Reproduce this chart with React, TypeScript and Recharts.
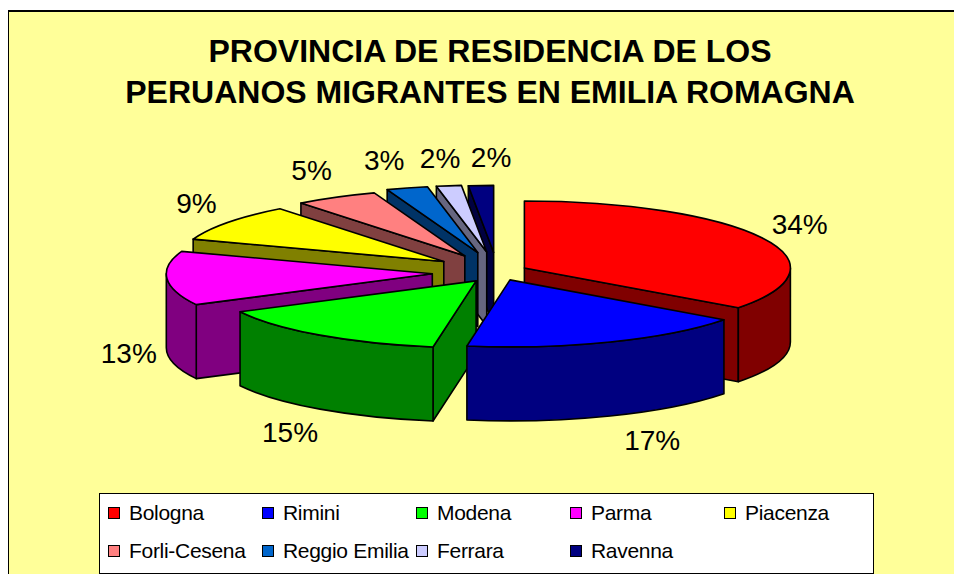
import { PieChart, Pie, Legend } from "recharts";

const TITLE = ["PROVINCIA DE RESIDENCIA DE LOS", "PERUANOS MIGRANTES EN EMILIA ROMAGNA"];
const PROVINCES = ["Bologna", "Rimini", "Modena", "Parma", "Piacenza", "Forli-Cesena", "Reggio Emilia", "Ferrara", "Ravenna"];
const SHARES = [34.49, 17.29, 15.0, 13.4, 9.2, 5.1, 2.52, 1.52, 1.52];
const TOPS = ["#ff0000", "#0000ff", "#00ff00", "#ff00ff", "#ffff00", "#ff8080", "#0066cc", "#ccccff", "#000080"];
const WALLS = ["#800000", "#000080", "#008000", "#800080", "#808000", "#804040", "#003366", "#666680", "#000040"];
// how far each slice is pulled out of the pie
const EXPLODE = [31, 31, 38, 65, 65, 66, 72, 72, 70];
const LABEL_NUDGE_X = [5, 14, -18, 1, 3, -4, -12, -3, 12];
const LABEL_NUDGE_Y = [1, 0, -2, -4, -3, -2, -1, 0, 0];

const CX = 497;
const CY = 272;
const RX = 266;
const RY = 67;
const DEPTH = 74;
const SQUASH = 0.28;
const rad = Math.PI / 180;

// painted back to front: Bologna, then counter-clockwise round to Rimini
const drawOrder = [0, 8, 7, 6, 5, 4, 3, 2, 1];
const table = drawOrder.map((i) => ({ name: PROVINCES[i], value: SHARES[i], idx: i }));
const startAt = 90 - (360 * SHARES[0]) / SHARES.reduce((a, b) => a + b, 0);

const rim = (ax: number, ay: number, t: number) => [ax + RX * Math.sin(t * rad), ay - RY * Math.cos(t * rad)];

// the old 3D view stretches the front a little
const warp = (t: number) => t + 1.5 * (1 - Math.cos(t * rad));

// library angles (90 = top, counter-clockwise) to degrees clockwise from the top
function cwRange(startAngle: number, endAngle: number) {
  let a0 = 90 - Math.max(startAngle, endAngle);
  let a1 = 90 - Math.min(startAngle, endAngle);
  if (a0 < -0.01) { a0 += 360; a1 += 360; }
  return [a0, a1];
}

function apexOf(idx: number, mid: number) {
  const e = EXPLODE[idx];
  return [CX + e * Math.sin(mid * rad), CY - e * SQUASH * Math.cos(mid * rad)];
}

function Slice3D(props: any) {
  const idx = props.idx ?? props.payload?.idx;
  const [c0, c1] = cwRange(props.startAngle, props.endAngle);
  const [ax, ay] = apexOf(idx, (c0 + c1) / 2);
  const a0 = warp(c0);
  const a1 = warp(c1);
  const p0 = rim(ax, ay, a0);
  const p1 = rim(ax, ay, a1);
  const big = a1 - a0 > 180 ? 1 : 0;
  const line = { stroke: "#000", strokeWidth: 1.6, strokeLinejoin: "round" as const };
  const wall = WALLS[idx];

  const radial = (p: number[]) =>
    `M${ax},${ay} L${p[0]},${p[1]} L${p[0]},${p[1] + DEPTH} L${ax},${ay + DEPTH} Z`;

  const from = Math.max(a0, 90);
  const to = Math.min(a1, 270);
  let outer = "";
  if (to > from) {
    const f = rim(ax, ay, from);
    const t = rim(ax, ay, to);
    outer = `M${f[0]},${f[1]} A${RX},${RY} 0 0 1 ${t[0]},${t[1]} L${t[0]},${t[1] + DEPTH} A${RX},${RY} 0 0 0 ${f[0]},${f[1] + DEPTH} Z`;
  }

  return (
    <g>
      {Math.sin(a0 * rad) < -0.001 && <path d={radial(p0)} fill={wall} {...line} />}
      {Math.sin(a1 * rad) > 0.001 && <path d={radial(p1)} fill={wall} {...line} />}
      {outer && <path d={outer} fill={wall} {...line} />}
      <path
        d={`M${ax},${ay} L${p0[0]},${p0[1]} A${RX},${RY} 0 ${big} 1 ${p1[0]},${p1[1]} Z`}
        fill={TOPS[idx]}
        {...line}
      />
    </g>
  );
}

function sliceLabel(props: any) {
  const idx = props.idx ?? props.payload?.idx;
  const mid = 90 - props.midAngle < 0 ? 450 - props.midAngle : 90 - props.midAngle;
  const [ax, ay] = apexOf(idx, mid);
  const [rx, ry] = rim(ax, ay, mid);
  const front = Math.cos(mid * rad) < 0;
  const x = rx + 40 * Math.sin(mid * rad) + LABEL_NUDGE_X[idx];
  const y = ry + (front ? DEPTH : 0) - 28 * Math.cos(mid * rad) + LABEL_NUDGE_Y[idx];
  return (
    <text key={idx} x={x} y={y} textAnchor="middle" dominantBaseline="central" fontSize={28} fill="#000"
      fontFamily="'Liberation Sans', Arial, sans-serif">
      {Math.round(props.percent * 100)}%
    </text>
  );
}

function LegendBox() {
  return (
    <div style={{
      boxSizing: "border-box", width: 775, height: 81, background: "#fff", border: "1.5px solid #000",
      position: "relative", fontFamily: "'Liberation Sans', Arial, sans-serif", fontSize: 21, color: "#000",
    }}>
      {PROVINCES.map((p, i) => {
        const col = i % 5;
        const row = Math.floor(i / 5);
        return (
          <div key={p} style={{ position: "absolute", left: 8 + col * 154, top: 7 + row * 38, height: 24, display: "flex", alignItems: "center", whiteSpace: "nowrap", letterSpacing: -0.3 }}>
            <span style={{ width: 10, height: 10, background: TOPS[i], border: "1px solid #000", marginRight: 9 }} />
            {p}
          </div>
        );
      })}
    </div>
  );
}

export default function App() {
  return (
    <div style={{ position: "absolute", left: 0, top: 0, width: 954, height: 574, background: "#fff", overflow: "hidden" }}>
      <div style={{ position: "absolute", left: 8, top: 10, right: 0, bottom: 0, background: "#ffff99", borderTop: "2px solid #000", borderLeft: "1.5px solid #000" }} />
      <div style={{ position: "absolute", left: 0, top: 0 }}>
        <PieChart width={954} height={574} margin={{ top: 0, right: 0, bottom: 0, left: 0 }}>
          {TITLE.map((t, i) => (
            <text key={t} x={490} y={62 + i * 41} textAnchor="middle" fontSize={32} fontWeight={700} fill="#000"
              fontFamily="'Liberation Sans', Arial, sans-serif">
              {t}
            </text>
          ))}
          <Pie
            data={table}
            dataKey="value"
            nameKey="name"
            cx={CX}
            cy={CY}
            outerRadius={RX}
            startAngle={startAt}
            endAngle={startAt + 360}
            shape={Slice3D}
            label={sliceLabel}
            labelLine={false}
            stroke="none"
            isAnimationActive={false}
          />
          <Legend content={<LegendBox />} wrapperStyle={{ left: 99, top: 493, width: 775, height: 81 }} />
        </PieChart>
      </div>
    </div>
  );
}
